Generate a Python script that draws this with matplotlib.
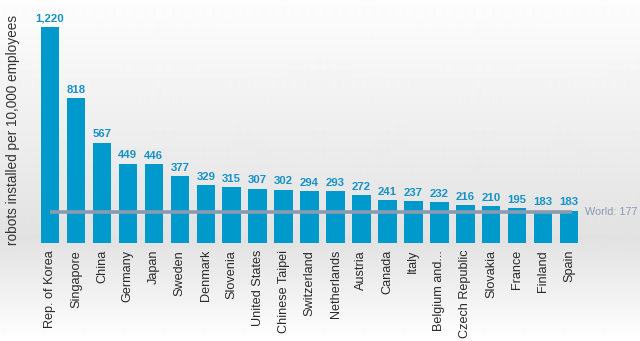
import numpy as np
import matplotlib
matplotlib.use("Agg")
import matplotlib.pyplot as plt

# ===================== data =====================
countries = ["Rep. of Korea", "Singapore", "China", "Germany", "Japan", "Sweden",
             "Denmark", "Slovenia", "United States", "Chinese Taipei", "Switzerland",
             "Netherlands", "Austria", "Canada", "Italy", "Belgium and...",
             "Czech Republic", "Slovakia", "France", "Finland", "Spain"]
robots = [1220, 818, 567, 449, 446, 377, 329, 315, 307, 302, 294,
          293, 272, 241, 237, 232, 216, 210, 195, 183, 183]
value_labels = ["1,220", "818", "567", "449", "446", "377", "329", "315", "307",
                "302", "294", "293", "272", "241", "237", "232", "216", "210",
                "195", "183", "183"]
world_avg = 177
world_label = "World: 177"
ylabel = "robots installed per 10,000 employees"

BAR_COLOR = "#0099cc"
LABEL_COLOR = "#1592c6"
WORLD_COLOR = "#8a9ab0"

plt.rcParams['font.family'] = ['Liberation Sans', 'DejaVu Sans']

W, H = 640, 341
fig = plt.figure(figsize=(W / 100, H / 100), dpi=100)

# background gradient (white -> light gray at baseline -> white)
bg = fig.add_axes([0, 0, 1, 1], zorder=0)
ys = np.linspace(0, 1, 341)  # 0 = top
shade = np.interp(ys, [0, 0.05, 0.70, 0.80, 1.0], [0.99, 0.985, 0.885, 0.92, 1.0])
bg.imshow(np.tile(shade[:, None], (1, 2)), cmap="gray", vmin=0, vmax=1,
          aspect="auto", extent=[0, 1, 0, 1], interpolation="bilinear")
bg.set_axis_off()

# main axes: baseline at y=243px, 1220 reaches y=27px
base_px = 243
top_px = 10
ax = fig.add_axes([30 / W, 1 - base_px / H, 570 / W, (base_px - top_px) / H], zorder=1)
ax.patch.set_alpha(0)

x = np.arange(len(countries))
ax.bar(x, robots, width=0.71, color=BAR_COLOR, zorder=2)
ax.plot([x[0], x[-1] + 0.1], [world_avg, world_avg], color=WORLD_COLOR, lw=2.6,
        zorder=3, solid_capstyle="butt")
ax.text(x[-1] + 0.6, world_avg, world_label, color=WORLD_COLOR, fontsize=7.8,
        va="center", ha="left", zorder=4)

for xi, v, lab in zip(x, robots, value_labels):
    ax.text(xi, v + 18, lab, ha="center", va="bottom", color=LABEL_COLOR,
            fontsize=8.2, fontweight="bold")

ax.set_xlim(-0.77, 21.19)
ax.set_ylim(0, (base_px - top_px) / 216 * 1220)
ax.set_xticks(x)
ax.set_xticklabels(countries, rotation=90, fontsize=9.1, color="#2a2a2a")
ax.tick_params(axis="x", length=0, pad=5)
ax.set_yticks([])
for s in ax.spines.values():
    s.set_visible(False)

fig.text(13 / W, 1 - 130 / H, ylabel, rotation=90, ha="center", va="center",
         fontsize=9.8, color="#333333")

fig.savefig("out.png", dpi=100)
